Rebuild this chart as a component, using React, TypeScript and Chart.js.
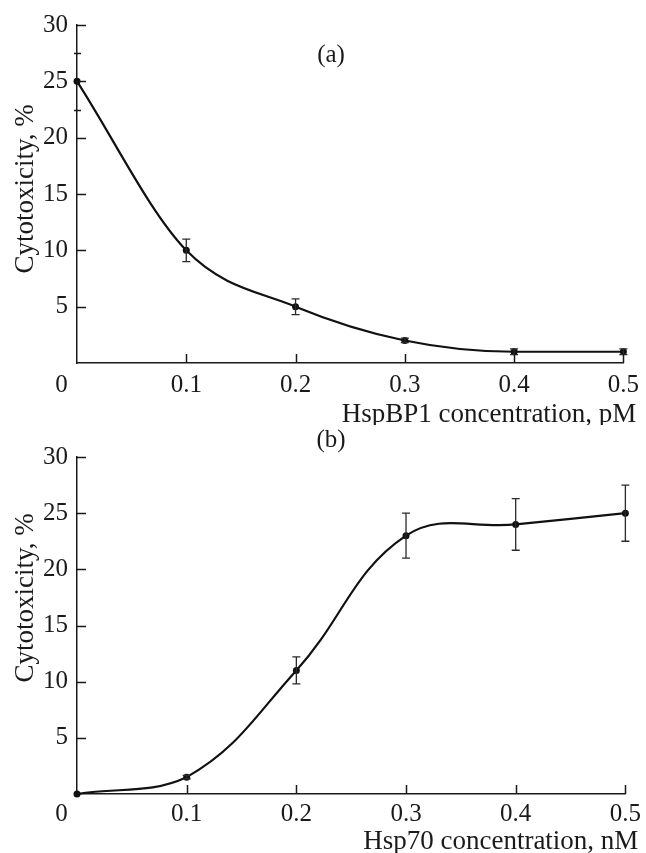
import React, { useEffect, useRef } from 'react';
import { Chart, registerables } from 'chart.js';

Chart.register(...registerables);

// ---- data ----
const concentrations = [0, 0.1, 0.2, 0.3, 0.4, 0.5];
const cytotoxicityA = [25, 10, 5, 2, 1, 1];
const errorA = [0, 1.0, 0.7, 0.2, 0.25, 0.25];
const cytotoxicityB = [0, 1.5, 11, 23, 24, 25];
const errorB = [0, 0.15, 1.2, 2.0, 2.3, 2.5];

const xTickValues = [0, 0.1, 0.2, 0.3, 0.4, 0.5];
const yTickValues = [5, 10, 15, 20, 25, 30];
const minorYTicksA = [22.5, 27.5];
const minorYTicksB: number[] = [];

const yAxisTitle = 'Cytotoxicity, %';
const xTitleA = 'HspBP1 concentration, pM';
const xTitleB = 'Hsp70 concentration, nM';
const panelA = '(a)';
const panelB = '(b)';

const FONT = "'Liberation Serif', 'Times New Roman', serif";
const INK = '#1a1a1a';

type PanelProps = {
  values: number[];
  errors: number[];
  minor: number[];
  xTitle: string;
  panel: string;
  height: number;
  padTop: number;
  axisBottom: number;
  xTitleBase: number;
  yTitleCenter: number;
  panelY: number;
  tickPad: number;
  smooth: 'monotone' | 'default';
};

function Panel(p: PanelProps) {
  const ref = useRef<HTMLCanvasElement | null>(null);
  useEffect(() => {
    const canvas = ref.current;
    if (!canvas) return;
    const deco = {
      id: 'deco',
      afterDatasetsDraw(chart: any) {
        const { ctx } = chart;
        const xs = chart.scales.x;
        const ys = chart.scales.y;
        ctx.save();
        ctx.strokeStyle = '#2a2a2a';
        ctx.lineWidth = 1.3;
        p.values.forEach((v, i) => {
          const e = p.errors[i];
          if (!e) return;
          const x = xs.getPixelForValue(concentrations[i]);
          const y1 = ys.getPixelForValue(v - e);
          const y2 = ys.getPixelForValue(v + e);
          ctx.beginPath();
          ctx.moveTo(x, y1);
          ctx.lineTo(x, y2);
          ctx.moveTo(x - 4, y1);
          ctx.lineTo(x + 4, y1);
          ctx.moveTo(x - 4, y2);
          ctx.lineTo(x + 4, y2);
          ctx.stroke();
        });
        ctx.restore();
      },
      afterDraw(chart: any) {
        const { ctx, chartArea } = chart;
        const xs = chart.scales.x;
        const ys = chart.scales.y;
        ctx.save();
        ctx.strokeStyle = INK;
        ctx.lineWidth = 1.5;
        ctx.beginPath();
        yTickValues.forEach((v) => {
          const y = Math.round(ys.getPixelForValue(v)) + 0.5;
          ctx.moveTo(chartArea.left, y);
          ctx.lineTo(chartArea.left + 9, y);
        });
        p.minor.forEach((v) => {
          const y = Math.round(ys.getPixelForValue(v)) + 0.5;
          ctx.moveTo(chartArea.left - 3, y);
          ctx.lineTo(chartArea.left + 4, y);
        });
        xTickValues.forEach((v) => {
          if (v === 0) return;
          const x = Math.round(xs.getPixelForValue(v)) + 0.5;
          ctx.moveTo(x, chartArea.bottom);
          ctx.lineTo(x, chartArea.bottom - 9);
        });
        ctx.stroke();

        ctx.fillStyle = INK;
        // x title
        ctx.font = `27px ${FONT}`;
        ctx.textAlign = 'right';
        ctx.textBaseline = 'alphabetic';
        ctx.fillText(p.xTitle, chartArea.right + 13, p.xTitleBase);
        // panel label
        ctx.font = `25px ${FONT}`;
        ctx.textAlign = 'center';
        ctx.textBaseline = 'middle';
        ctx.fillText(p.panel, 331, p.panelY);
        // y title
        ctx.font = `27px ${FONT}`;
        ctx.translate(33, p.yTitleCenter);
        ctx.rotate(-Math.PI / 2);
        ctx.textAlign = 'center';
        ctx.textBaseline = 'alphabetic';
        ctx.fillText(yAxisTitle, 0, 0);
        ctx.restore();
      },
    };

    const chart = new Chart(canvas, {
      type: 'line',
      data: {
        datasets: [
          {
            data: concentrations.map((x, i) => ({ x, y: p.values[i] })),
            borderColor: '#111',
            borderWidth: 2.2,
            backgroundColor: '#111',
            pointRadius: 3.5,
            pointBackgroundColor: '#111',
            pointBorderWidth: 0,
            tension: 0.4,
            cubicInterpolationMode: p.smooth,
            fill: false,
            clip: false,
          } as any,
        ],
      },
      options: {
        responsive: false,
        animation: false,
        devicePixelRatio: 1,
        layout: { padding: { top: p.padTop, right: 16, left: 0, bottom: 0 } },
        plugins: { legend: { display: false }, tooltip: { enabled: false }, title: { display: false } },
        scales: {
          x: {
            type: 'linear',
            min: 0,
            max: 0.5,
            grid: { display: false, drawTicks: false },
            border: { display: true, color: INK, width: 1.5 },
            afterBuildTicks: (scale: any) => {
              scale.ticks = xTickValues.map((v) => ({ value: v }));
            },
            afterFit: (scale: any) => {
              scale.height = p.height - p.axisBottom;
            },
            ticks: {
              autoSkip: false,
              maxRotation: 0,
              padding: p.tickPad,
              color: INK,
              font: { family: FONT, size: 25 },
              callback: (v: any) => (Number(v) === 0 ? '0     ' : Number(v).toFixed(1)),
            },
          },
          y: {
            type: 'linear',
            min: 0,
            max: 30,
            grid: { display: false, drawTicks: false },
            border: { display: true, color: INK, width: 1.5 },
            afterBuildTicks: (scale: any) => {
              scale.ticks = yTickValues.map((v) => ({ value: v }));
            },
            afterFit: (scale: any) => {
              scale.width = 77;
            },
            ticks: {
              padding: 9,
              color: INK,
              font: { family: FONT, size: 25 },
              callback: (v: any) => String(v),
            },
          },
        },
      },
      plugins: [deco],
    } as any);
    return () => chart.destroy();
  }, []);
  return <canvas ref={ref} width={646} height={p.height} style={{ display: 'block' }} />;
}

export default function App() {
  return (
    <div style={{ position: 'absolute', left: 0, top: 0, width: 646, height: 853, background: '#fff' }}>
      <Panel
        values={cytotoxicityA}
        errors={errorA}
        minor={minorYTicksA}
        xTitle={xTitleA}
        panel={panelA}
        height={425}
        padTop={25}
        axisBottom={363}
        xTitleBase={422}
        yTitleCenter={189}
        panelY={55}
        tickPad={7}
        smooth="monotone"
      />
      <Panel
        values={cytotoxicityB}
        errors={errorB}
        minor={minorYTicksB}
        xTitle={xTitleB}
        panel={panelB}
        height={428}
        padTop={32}
        axisBottom={369}
        xTitleBase={424}
        yTitleCenter={173}
        panelY={15}
        tickPad={5}
        smooth="default"
      />
    </div>
  );
}
